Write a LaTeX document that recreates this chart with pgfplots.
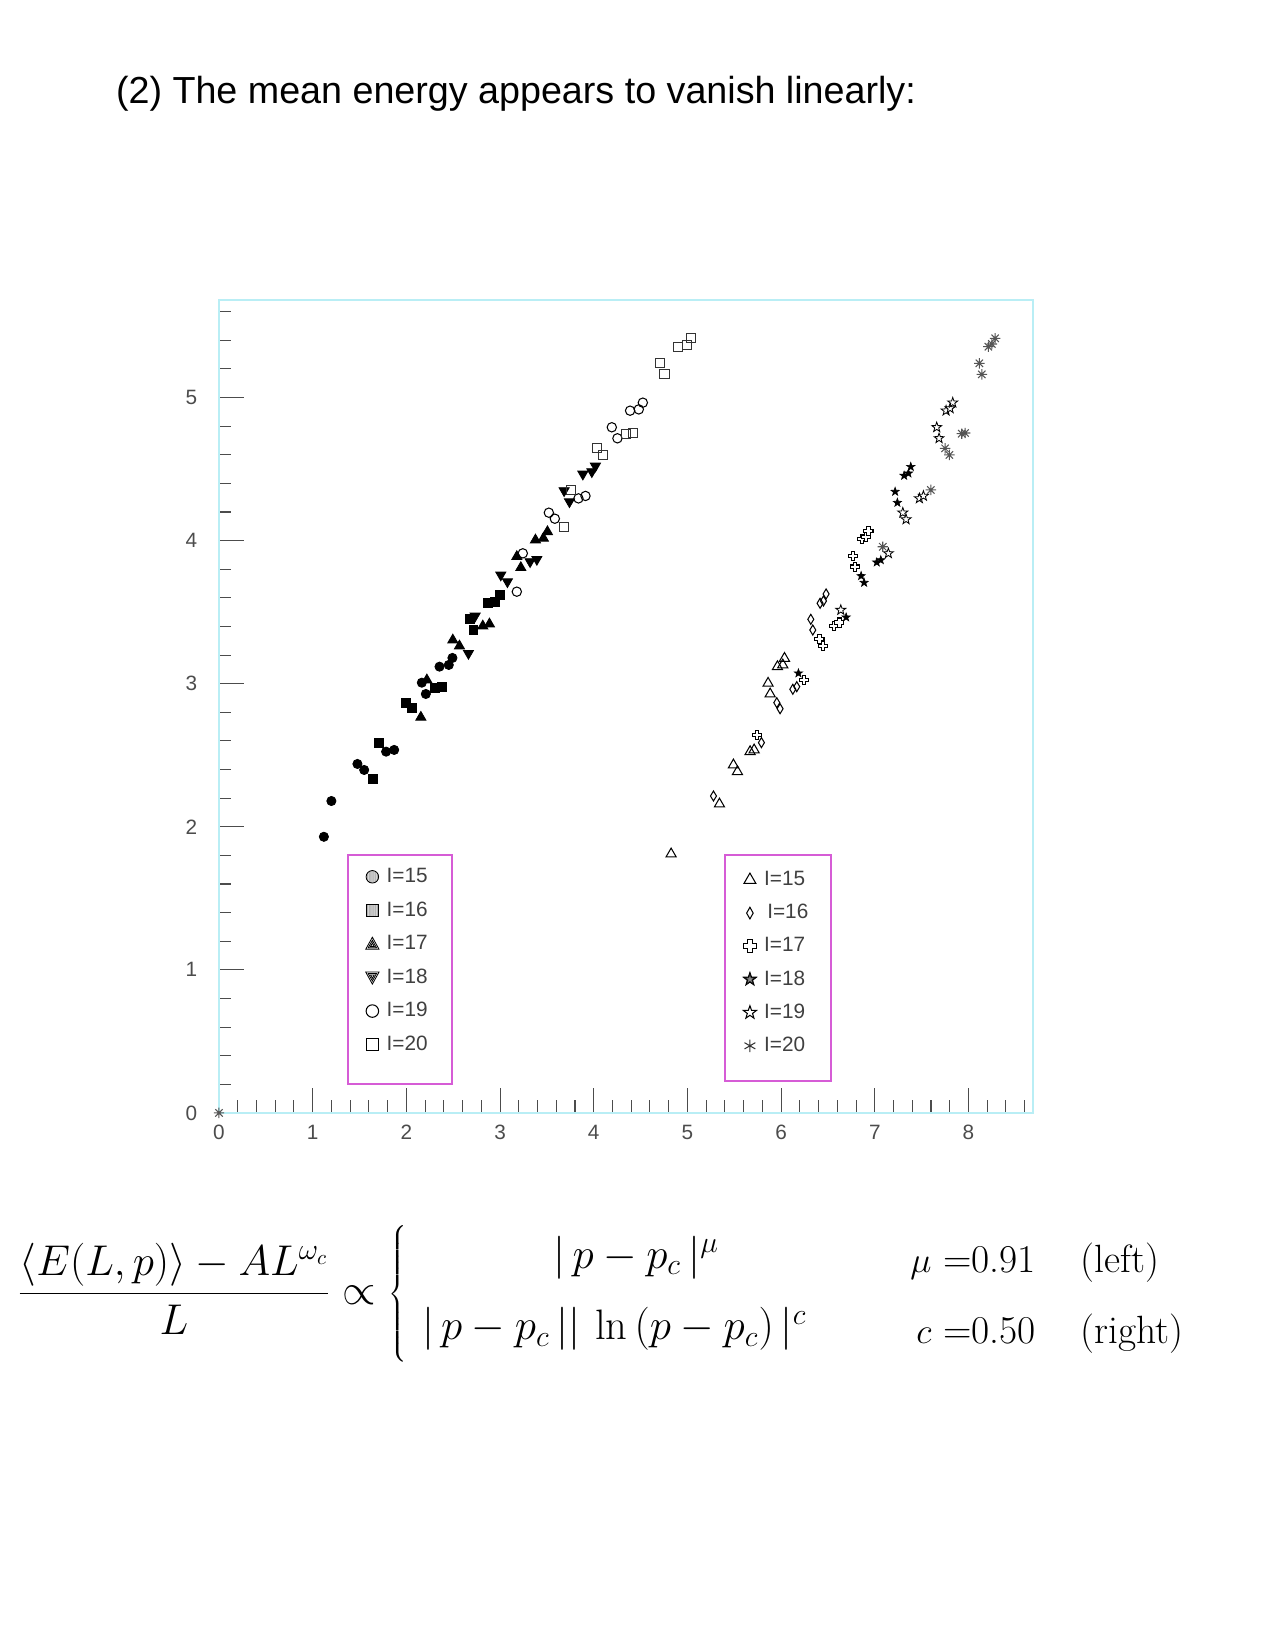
\documentclass[border=0pt]{standalone}
\usepackage{fontspec}
\newfontfamily\arial{Liberation Sans}
\usepackage{pgfplots}
\pgfplotsset{compat=1.18}
\usetikzlibrary{patterns,patterns.meta}

\definecolor{framecol}{RGB}{185,238,245}
\definecolor{legbox}{RGB}{214,92,214}
\definecolor{astgray}{RGB}{85,85,85}

\pgfdeclareplotmark{ocross}{%
  \pgfpathmoveto{\pgfqpoint{-.36\pgfplotmarksize}{\pgfplotmarksize}}%
  \pgfpathlineto{\pgfqpoint{.36\pgfplotmarksize}{\pgfplotmarksize}}%
  \pgfpathlineto{\pgfqpoint{.36\pgfplotmarksize}{.36\pgfplotmarksize}}%
  \pgfpathlineto{\pgfqpoint{\pgfplotmarksize}{.36\pgfplotmarksize}}%
  \pgfpathlineto{\pgfqpoint{\pgfplotmarksize}{-.36\pgfplotmarksize}}%
  \pgfpathlineto{\pgfqpoint{.36\pgfplotmarksize}{-.36\pgfplotmarksize}}%
  \pgfpathlineto{\pgfqpoint{.36\pgfplotmarksize}{-\pgfplotmarksize}}%
  \pgfpathlineto{\pgfqpoint{-.36\pgfplotmarksize}{-\pgfplotmarksize}}%
  \pgfpathlineto{\pgfqpoint{-.36\pgfplotmarksize}{-.36\pgfplotmarksize}}%
  \pgfpathlineto{\pgfqpoint{-\pgfplotmarksize}{-.36\pgfplotmarksize}}%
  \pgfpathlineto{\pgfqpoint{-\pgfplotmarksize}{.36\pgfplotmarksize}}%
  \pgfpathlineto{\pgfqpoint{-.36\pgfplotmarksize}{.36\pgfplotmarksize}}%
  \pgfpathclose
  \pgfusepathqfillstroke}
\pgfdeclareplotmark{ast8}{%
  \pgfpathmoveto{\pgfqpoint{0pt}{\pgfplotmarksize}}%
  \pgfpathlineto{\pgfqpoint{0pt}{-\pgfplotmarksize}}%
  \pgfpathmoveto{\pgfqpoint{\pgfplotmarksize}{0pt}}%
  \pgfpathlineto{\pgfqpoint{-\pgfplotmarksize}{0pt}}%
  \pgfpathmoveto{\pgfqpoint{.707\pgfplotmarksize}{.707\pgfplotmarksize}}%
  \pgfpathlineto{\pgfqpoint{-.707\pgfplotmarksize}{-.707\pgfplotmarksize}}%
  \pgfpathmoveto{\pgfqpoint{-.707\pgfplotmarksize}{.707\pgfplotmarksize}}%
  \pgfpathlineto{\pgfqpoint{.707\pgfplotmarksize}{-.707\pgfplotmarksize}}%
  \pgfusepathqstroke}
\pgfdeclareplotmark{star5}{%
  \pgfpathmoveto{\pgfqpointpolar{90}{\pgfplotmarksize}}%
  \pgfpathlineto{\pgfqpointpolar{126}{.4\pgfplotmarksize}}%
  \pgfpathlineto{\pgfqpointpolar{162}{\pgfplotmarksize}}%
  \pgfpathlineto{\pgfqpointpolar{198}{.4\pgfplotmarksize}}%
  \pgfpathlineto{\pgfqpointpolar{234}{\pgfplotmarksize}}%
  \pgfpathlineto{\pgfqpointpolar{270}{.4\pgfplotmarksize}}%
  \pgfpathlineto{\pgfqpointpolar{306}{\pgfplotmarksize}}%
  \pgfpathlineto{\pgfqpointpolar{342}{.4\pgfplotmarksize}}%
  \pgfpathlineto{\pgfqpointpolar{18}{\pgfplotmarksize}}%
  \pgfpathlineto{\pgfqpointpolar{54}{.4\pgfplotmarksize}}%
  \pgfpathclose
  \pgfusepathqfillstroke}

\pgfplotsset{
  base/.style={scale only axis, width=390.8bp, height=390.3bp,
    xmin=0, xmax=8.69, ymin=0, ymax=5.683, clip=false,
    at={(105.1bp,-534.2bp)}, anchor=south west},
  legend image code/.code={\path (-3.2bp,-3.2bp) (3.2bp,3.2bp);
    \draw[#1] plot coordinates {(0,0)};},
  mylegend/.style 2 args={legend style={draw=none, fill=none, inner sep=0pt,
    row sep=#2, column sep=3.4bp, nodes={inner sep=0pt},
    font=\arial\fontsize{10}{12}\selectfont, text=black!75,
    at={(#1)}, anchor=north west}, legend cell align=left},
}

\begin{document}
\begin{tikzpicture}
\path[use as bounding box] (0,0) rectangle (612bp,-792bp);
\fill[white] (0,0) rectangle (612bp,-792bp);

\node[anchor=base west, inner sep=0pt] at (55.5bp,-49.5bp)
  {\arial\fontsize{18.15}{21}\selectfont (2) The mean energy appears to vanish linearly:};

% ---------- left family (power law) + frame and ticks ----------
\begin{axis}[base,
  axis line style={draw=framecol, line width=1bp},
  xtick={0,1,...,8}, ytick={0,1,...,5},
  minor xtick={0,0.2,...,8.6}, minor ytick={0,0.2,...,5.6},
  xtick pos=left, ytick pos=left, tick align=inside,
  major tick length=12bp, minor tick length=6bp,
  major tick style={black!70, line width=0.5bp},
  minor tick style={black!70, line width=0.5bp},
  ticklabel style={font=\arial\fontsize{10}{10}\selectfont, text=black!70},
  /pgf/number format/assume math mode=true,
  yticklabel style={xshift=-7bp},
  xticklabel style={yshift=-2.5bp},
  mylegend={0.1791,0.3016}{7.7bp},
]
\addplot[only marks, mark=*, mark size=2.2bp, black, forget plot] coordinates {
(1.12,1.93) (1.20,2.18) (1.478,2.439) (1.550,2.397) (1.784,2.525) (1.870,2.537)
(2.165,3.007) (2.208,2.928) (2.354,3.119) (2.453,3.131) (2.492,3.180)};
\addplot[only marks, mark=square*, mark size=2.15bp, black, forget plot] coordinates {
(1.642,2.334) (1.710,2.588) (1.998,2.863) (2.058,2.828) (2.307,2.968) (2.379,2.975)
(2.681,3.450) (2.716,3.375) (2.866,3.562) (2.948,3.573) (2.994,3.618)};
\addplot[only marks, mark=triangle*, mark size=2.8bp, black, forget plot] coordinates {
(2.155,2.765) (2.219,3.026) (2.496,3.305) (2.567,3.263) (2.816,3.403) (2.887,3.417)
(3.179,3.888) (3.222,3.811) (3.378,4.004) (3.463,4.016) (3.506,4.062)};
\addplot[only marks, mark=triangle*, mark size=2.8bp, mark options={rotate=180}, black, forget plot] coordinates {
(2.663,3.212) (2.734,3.473) (3.008,3.760) (3.079,3.713) (3.321,3.853) (3.393,3.869)
(3.684,4.349) (3.741,4.272) (3.884,4.465) (3.980,4.482) (4.018,4.521)};
\addplot[only marks, mark=o, mark size=2.25bp, black, line width=0.5bp, forget plot] coordinates {
(3.179,3.643) (3.243,3.911) (3.521,4.195) (3.585,4.153) (3.837,4.295) (3.912,4.312)
(4.193,4.792) (4.253,4.715) (4.388,4.908) (4.481,4.917) (4.524,4.964)};
\addplot[only marks, mark=square, mark size=2.2bp, black!80, line width=0.5bp, forget plot] coordinates {
(3.684,4.093) (3.755,4.354) (4.033,4.645) (4.097,4.601) (4.346,4.745) (4.417,4.754)
(4.709,5.239) (4.755,5.162) (4.901,5.355) (4.993,5.367) (5.039,5.414)};

\addlegendimage{legend image code/.code={\path (-3.2bp,-3.2bp) (3.2bp,3.2bp);
  \draw[black, line width=0.4bp, pattern={Lines[angle=90,distance=1.1bp,line width=0.4bp]}] (0,0) circle (3bp);}}
\addlegendentry{I=15}
\addlegendimage{legend image code/.code={\path (-3.2bp,-3.2bp) (3.2bp,3.2bp);
  \draw[black, line width=0.4bp, pattern={Lines[angle=90,distance=1.1bp,line width=0.4bp]}] (-3bp,-3bp) rectangle (3bp,3bp);}}
\addlegendentry{I=16}
\addlegendimage{legend image code/.code={\path (-3.2bp,-3.2bp) (3.2bp,3.2bp);
  \draw[black, line width=0.4bp] (-3.2bp,-2.6bp) -- (3.2bp,-2.6bp) -- (0,3.2bp) -- cycle;
  \draw[black, line width=0.4bp] (-2bp,-1.9bp) -- (2bp,-1.9bp) -- (0,1.7bp) -- cycle;
  \draw[black, line width=0.4bp] (-0.9bp,-1.2bp) -- (0.9bp,-1.2bp) -- (0,0.4bp) -- cycle;}}
\addlegendentry{I=17}
\addlegendimage{legend image code/.code={\path (-3.2bp,-3.2bp) (3.2bp,3.2bp);
  \draw[black, line width=0.4bp] (-3.2bp,2.6bp) -- (3.2bp,2.6bp) -- (0,-3.2bp) -- cycle;
  \draw[black, line width=0.4bp] (-2bp,1.9bp) -- (2bp,1.9bp) -- (0,-1.7bp) -- cycle;
  \draw[black, line width=0.4bp] (-0.9bp,1.2bp) -- (0.9bp,1.2bp) -- (0,-0.4bp) -- cycle;}}
\addlegendentry{I=18}
\addlegendimage{only marks, mark=o, mark size=3bp, black, line width=0.5bp}
\addlegendentry{I=19}
\addlegendimage{only marks, mark=square, mark size=2.9bp, black, line width=0.5bp}
\addlegendentry{I=20}

\draw[legbox, line width=0.8bp] (axis cs:1.379,1.803) rectangle (axis cs:2.489,0.203);
\draw[legbox, line width=0.8bp] (axis cs:5.402,1.803) rectangle (axis cs:6.534,0.224);
\end{axis}

% ---------- right family (log corrected) ----------
\begin{axis}[base, hide axis, mylegend={0.6428,0.2977}{7.5bp}]
\addplot[only marks, mark=triangle, mark size=2.8bp, black, line width=0.5bp, forget plot] coordinates {
(4.826,1.81) (5.342,2.159) (5.491,2.432) (5.534,2.385) (5.669,2.525) (5.712,2.537)
(5.861,3.003) (5.883,2.928) (5.961,3.119) (6.018,3.131) (6.036,3.177)};
\addplot[only marks, mark=diamond, mark size=2.4bp, mark options={xscale=0.8}, black, line width=0.5bp, forget plot] coordinates {
(5.278,2.215) (5.790,2.588) (5.954,2.867) (5.989,2.825) (6.125,2.961) (6.167,2.979)
(6.317,3.450) (6.338,3.375) (6.416,3.562) (6.452,3.578) (6.480,3.627)};
\addplot[only marks, mark=ocross, mark size=2.2bp, mark options={fill=white}, black, line width=0.5bp, forget plot] coordinates {
(5.741,2.641) (6.245,3.026) (6.409,3.310) (6.445,3.263) (6.565,3.403) (6.622,3.427)
(6.765,3.892) (6.790,3.818) (6.864,4.009) (6.907,4.023) (6.932,4.069)};
\addplot[only marks, mark=star5, mark size=2.1bp, mark options={fill=black}, black, line width=0.3bp, forget plot] coordinates {
(6.185,3.073) (6.694,3.464) (6.854,3.753) (6.886,3.706) (7.021,3.848) (7.064,3.864)
(7.217,4.342) (7.241,4.265) (7.313,4.454) (7.359,4.470) (7.384,4.516)};
\addplot[only marks, mark=star5, mark size=2.5bp, mark options={fill=white}, black, line width=0.4bp, forget plot] coordinates {
(6.637,3.515) (7.145,3.911) (7.299,4.195) (7.334,4.148) (7.476,4.295) (7.519,4.312)
(7.661,4.792) (7.686,4.715) (7.761,4.908) (7.804,4.924) (7.832,4.964)};
\addplot[only marks, mark=ast8, mark size=2.5bp, astgray, line width=0.5bp, forget plot] coordinates {
(0,0) (7.085,3.957) (7.598,4.354) (7.750,4.645) (7.796,4.599) (7.928,4.747) (7.964,4.752)
(8.116,5.239) (8.142,5.162) (8.212,5.355) (8.249,5.374) (8.284,5.414)};

\addlegendimage{only marks, mark=triangle, mark size=3.3bp, black, line width=0.5bp}
\addlegendentry{I=15}
\addlegendimage{only marks, mark=diamond, mark size=2.8bp, mark options={xscale=0.75}, black, line width=0.5bp}
\addlegendentry{\hspace{1.5bp}I=16}
\addlegendimage{only marks, mark=ocross, mark size=3bp, mark options={fill=white}, black, line width=0.5bp}
\addlegendentry{I=17}
\addlegendimage{legend image code/.code={\path (-3.2bp,-3.2bp) (3.2bp,3.2bp);
  \draw[black, fill=black!85, line width=0.4bp, mark=star5, mark size=3.4bp] plot coordinates {(0,0)};
  \draw[black!45, fill=black!45, line width=0.2bp, mark=star5, mark size=1.3bp] plot coordinates {(0,0)};}}
\addlegendentry{I=18}
\addlegendimage{only marks, mark=star5, mark size=3.3bp, mark options={fill=white}, black, line width=0.5bp}
\addlegendentry{I=19}
\addlegendimage{only marks, mark=asterisk, mark size=3bp, black!80, line width=0.5bp}
\addlegendentry{I=20}
\end{axis}

% ---------- formula ----------
\node[anchor=west, inner sep=0pt] at (8bp,-621bp) {\fontsize{20.5}{24.6}\selectfont
 $\displaystyle \frac{\langle E(L,p)\rangle - AL^{\omega_c}}{L} \propto \left\{\vrule height 37.5pt depth 27.5pt width 0pt\hspace{2.5pt}\begin{array}{c}
 \hspace{21bp}|\,p-p_c\,|^{\mu}\\[9.8pt]
 |\,p-p_c\,||\,\ln\,(p-p_c)\,|^{c}
 \end{array}\right.$};
\node[anchor=base east, inner sep=0pt] at (497.4bp,-610.6bp) {\fontsize{19}{22}\selectfont $\mu$ =0.91};
\node[anchor=base west, inner sep=0pt] at (518.6bp,-610.6bp) {\fontsize{19}{22}\selectfont (left)};
\node[anchor=base east, inner sep=0pt] at (497.4bp,-644.9bp) {\fontsize{19}{22}\selectfont $c$ =0.50};
\node[anchor=base west, inner sep=0pt] at (518.6bp,-644.9bp) {\fontsize{19}{22}\selectfont (right)};
\end{tikzpicture}
\end{document}
